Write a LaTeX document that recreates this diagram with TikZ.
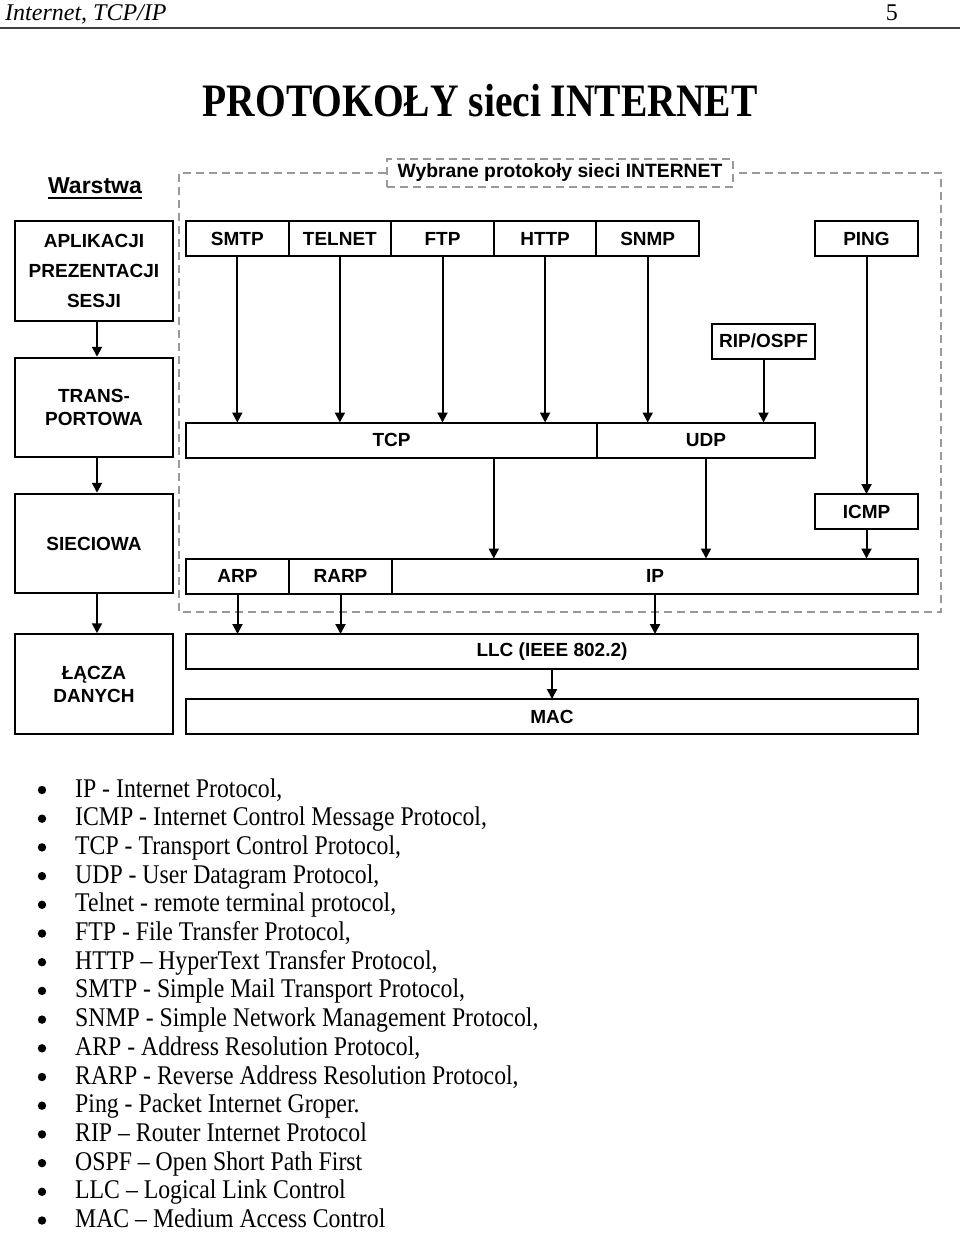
\documentclass[tikz,border=0pt]{standalone}
\usepackage{fontspec}
\setmainfont{Liberation Serif}
\setsansfont{Liberation Sans}
\newfontfamily\listfont{Liberation Serif}[FakeStretch=0.88]
\newfontfamily\titlefont{Liberation Serif}[FakeStretch=0.85]
\usetikzlibrary{arrows.meta,positioning}

\tikzset{
  layer/.style={draw, line width=2pt, minimum width=158pt, minimum height=99.5pt,
    align=center, font=\sffamily\bfseries\fontsize{19}{23}\selectfont},
  proto/.style={draw, line width=2pt, outer sep=0pt, inner sep=0pt,
    minimum width=102.6pt, minimum height=35pt,
    font=\sffamily\bfseries\fontsize{19}{22}\selectfont},
  arr/.style={line width=2pt, -{Triangle[length=10pt,width=10pt]}},
  frame/.style={draw=black!40, line width=2pt, dash pattern=on 8pt off 5pt},
}

\begin{document}
\begin{tikzpicture}[x=1pt,y=-1pt]
\useasboundingbox (0,0) rectangle (960,1233);
% page header
\node[anchor=base west, inner sep=0pt, font=\itshape\fontsize{24}{28}\selectfont] (head) at (5,21) {Internet, TCP/IP};
\node[anchor=base east, inner sep=0pt, font=\fontsize{24}{28}\selectfont] (pagenr) at (898,21) {5};
\draw[line width=2.5pt, black!75] (0,28) -- (960,28);
\node[anchor=base, inner sep=0pt, font=\titlefont\bfseries\fontsize{46.5}{50}\selectfont] (title) at (480,117) {PROTOKOŁY sieci INTERNET};

% layers
\node[anchor=base, inner sep=0pt, font=\sffamily\bfseries\fontsize{23}{26}\selectfont] (warstwa) at (95,194) {Warstwa};
\draw[line width=1.8pt] ([yshift=-4pt]warstwa.base west) -- ([yshift=-4pt]warstwa.base east);
\node[layer] (apl) at (94,271) {APLIKACJI\\[7pt]PREZENTACJI\\[7pt]SESJI};
\node[layer] (trans) at (94,407.5) {TRANS-\\PORTOWA};
\node[layer] (siec) at (94,543.5) {SIECIOWA};
\node[layer] (lacza) at (94,684) {ŁĄCZA\\DANYCH};
\draw[arr] ([xshift=3pt]apl.south) -- ([xshift=3pt]trans.north);
\draw[arr] ([xshift=3pt]trans.south) -- ([xshift=3pt]siec.north);
\draw[arr] ([xshift=3pt]siec.south) -- ([xshift=3pt]lacza.north);

% dashed frame
\node[frame, minimum width=346pt, minimum height=28pt, inner sep=0pt,
  font=\sffamily\bfseries\fontsize{19.3}{22}\selectfont] (sel) at (560,173) {Wybrane protokoły sieci INTERNET};
\draw[frame] (sel.west) -| (179,612) -| (941,173) -- (sel.east);

% protocols
\node[proto] (smtp) at (237.3,238.5) {SMTP};
\node[proto, right=0pt of smtp] (telnet) {TELNET};
\node[proto, right=0pt of telnet] (ftp) {FTP};
\node[proto, right=0pt of ftp] (http) {HTTP};
\node[proto, right=0pt of http] (snmp) {SNMP};
\node[proto] (ping) at (866.5,238.5) {PING};
\node[proto] (rip) at (763.5,341) {RIP/OSPF};
\node[proto, minimum width=411pt] (tcp) at (391.5,440) {TCP};
\node[proto, minimum width=218pt, right=0pt of tcp] (udp) {UDP};
\node[proto] (icmp) at (866.5,511.5) {ICMP};
\node[proto, minimum width=103pt] (arp) at (237.5,576) {ARP};
\node[proto, minimum width=103pt, right=0pt of arp] (rarp) {RARP};
\node[proto, minimum width=526pt, right=0pt of rarp] (ip) {IP};
\node[proto, minimum width=732pt] (llc) at (552,651.5) {LLC (IEEE 802.2)};
\node[proto, minimum width=732pt] (mac) at (552,716.5) {MAC};

\foreach \p in {smtp,telnet,ftp,http}
  \draw[arr] (\p) -- (\p |- tcp.north);
\foreach \p in {snmp,rip}
  \draw[arr] (\p) -- (\p |- udp.north);
\draw[arr] (ping) -- (icmp);
\draw[arr] (tcp.south -| http.west) -- (ip.north -| http.west);
\draw[arr] (udp) -- (udp |- ip.north);
\draw[arr] (icmp) -- (icmp |- ip.north);
\foreach \p in {arp,rarp,ip}
  \draw[arr] (\p) -- (\p |- llc.north);
\draw[arr] (llc) -- (mac);

% abbreviations
\foreach \txt [count=\i from 0] in {{IP - Internet Protocol,},
  {ICMP - Internet Control Message Protocol,},
  {TCP - Transport Control Protocol,},
  {UDP - User Datagram Protocol,},
  {Telnet - remote terminal protocol,},
  {FTP - File Transfer Protocol,},
  {HTTP – HyperText Transfer Protocol,},
  {SMTP - Simple Mail Transport Protocol,},
  {SNMP - Simple Network Management Protocol,},
  {ARP - Address Resolution Protocol,},
  {RARP - Reverse Address Resolution Protocol,},
  {Ping - Packet Internet Groper.},
  {RIP – Router Internet Protocol},
  {OSPF – Open Short Path First},
  {LLC – Logical Link Control},
  {MAC – Medium Access Control}} {
  \node[anchor=base west, inner sep=0pt, font=\listfont\fontsize{27}{29}\selectfont] (item\i) at (75,797+28.7*\i) {\txt};
  \fill (42,790+28.7*\i) circle (4.2pt);
}
\end{tikzpicture}
\end{document}
